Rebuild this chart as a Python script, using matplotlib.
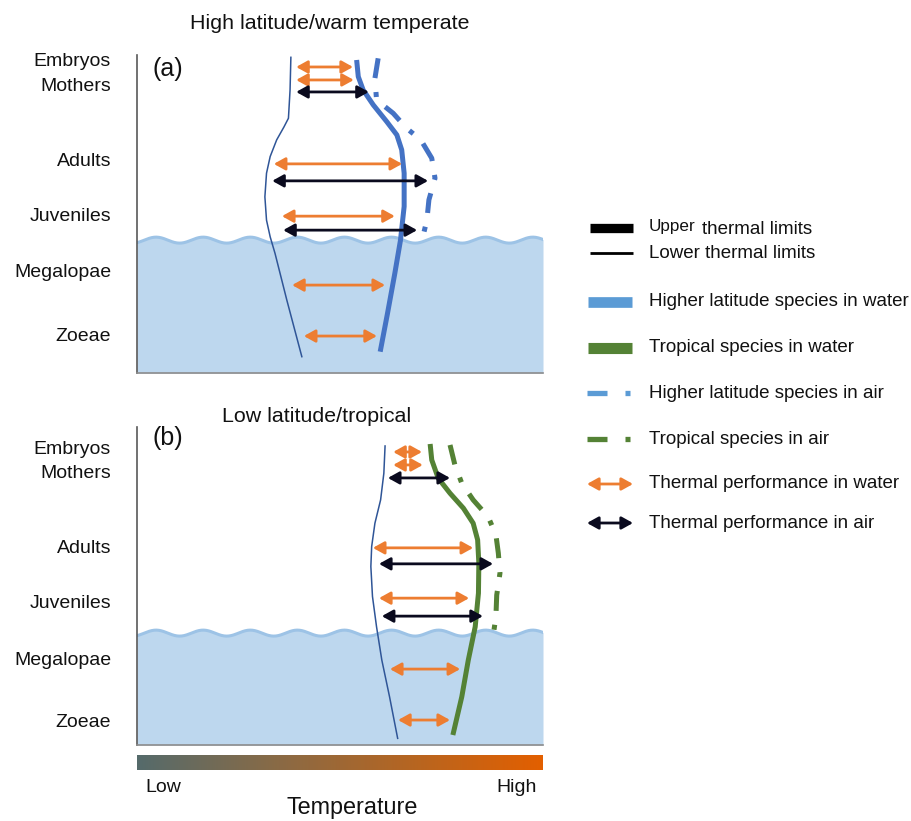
import numpy as np
import matplotlib
matplotlib.use("Agg")
import matplotlib.pyplot as plt
from matplotlib.colors import LinearSegmentedColormap

plt.rcParams['font.family'] = ['Liberation Sans', 'DejaVu Sans']

# ---------------- data (temperature axis 0-100, vertical position 0-100) -------------
stages = ['Zoeae', 'Megalopae', 'Juveniles', 'Adults', 'Mothers', 'Embryos']

# Panel (a): high latitude / warm temperate
label_y_a = [11.7, 30.9, 47.7, 64.1, 86.5, 94.0]
lower_t_a = [37.9, 37.7, 37.3, 36.2, 34.4, 32.8, 31.9, 31.5, 31.9, 32.8, 34.0, 36.9, 40.6]
lower_y_a = [94.8, 85.0, 76.5, 73.9, 70.0, 65.0, 60.0, 52.9, 45.9, 40.9, 35.9, 21.9, 4.9]
upper_t_a = [54.1, 54.5, 55.7, 58.2, 61.5, 64.0, 65.2, 65.8, 65.8, 64.9, 63.5, 61.7, 59.9]
upper_y_a = [94.0, 89.0, 85.0, 80.5, 75.5, 71.5, 67.0, 60.0, 50.0, 39.9, 29.9, 17.9, 6.4]
air_t_a = [59.4, 58.6, 59.0, 63.1, 66.4, 69.9, 72.6, 73.4, 71.9, 71.4, 70.5]
air_y_a = [94.5, 88.5, 82.0, 78.0, 73.5, 70.0, 64.5, 58.5, 52.0, 45.9, 41.4]
water_perf_y_a = [11.1, 26.4, 47.1, 62.8, 88.0, 91.9]
water_perf_lo_a = [41.1, 38.2, 35.7, 33.7, 39.2, 39.2]
water_perf_hi_a = [59.1, 61.1, 63.5, 65.3, 53.4, 53.2]
air_perf_y_a = [42.9, 57.7, 84.4]
air_perf_lo_a = [36.0, 33.3, 39.2]
air_perf_hi_a = [69.0, 71.7, 57.1]
water_level_a = 39.9

# Panel (b): low latitude / tropical
label_y_b = [7.5, 26.1, 43.2, 59.5, 82.0, 89.2]
lower_t_b = [61.1, 60.8, 60.0, 58.6, 57.8, 57.6, 58.0, 59.0, 60.3, 62.2, 64.2]
lower_y_b = [89.8, 81.6, 73.6, 66.6, 59.6, 53.6, 44.6, 35.5, 25.5, 14.5, 2.0]
upper_t_b = [72.2, 72.6, 74.2, 77.1, 80.4, 82.8, 83.9, 84.2, 84.1, 83.3, 81.6, 80.0, 77.8]
upper_y_b = [90.4, 85.6, 80.1, 75.6, 71.1, 66.6, 61.6, 54.6, 45.6, 35.5, 25.5, 14.5, 3.0]
air_t_b = [77.1, 78.3, 80.0, 82.8, 86.5, 88.4, 89.0, 89.4, 88.6, 88.4, 87.8]
air_y_b = [90.1, 84.1, 78.6, 73.6, 68.5, 63.1, 57.6, 51.6, 45.0, 38.5, 33.5]
water_perf_y_b = [7.5, 22.8, 44.1, 59.2, 84.1, 88.0]
water_perf_lo_b = [64.3, 62.3, 59.6, 58.1, 63.1, 63.1]
water_perf_hi_b = [77.1, 79.6, 81.8, 82.8, 70.4, 70.2]
air_perf_y_b = [38.7, 54.4, 80.2]
air_perf_lo_b = [60.3, 59.6, 61.8]
air_perf_hi_b = [85.2, 87.7, 77.1]
water_level_b = 33.6

legend_labels = ['Lower thermal limits', 'Higher latitude species in water',
                 'Tropical species in water', 'Higher latitude species in air',
                 'Tropical species in air', 'Thermal performance in water',
                 'Thermal performance in air']

# ---------------- style -------------
W, H = 911, 821
ORANGE = '#ED7D31'
BLACK_ARROW = '#0A0A1E'
BLUE_LINE = '#4472C4'
GREEN_LINE = '#548235'
LOWER_COL = '#2F5597'
WATER = '#BDD7EE'
WAVE = '#9DC3E6'
TXT = '#111111'
WAVE_AMP, WAVE_LEN, WAVE_PHASE = 0.9, 11.6, 4.7
DASH = (0, (4.0, 2.8, 1.0, 2.8))

fig = plt.figure(figsize=(W / 100, H / 100), dpi=100)


def px_axes(x0, y0, x1, y1, **kw):
    return fig.add_axes([x0 / W, 1 - y1 / H, (x1 - x0) / W, (y1 - y0) / H], **kw)


def arrow(ax, x0, x1, y, color, ms=15, lw=2.0):
    ax.annotate('', xy=(x1, y), xytext=(x0, y),
                arrowprops=dict(arrowstyle='<|-|>,head_length=0.45,head_width=0.25',
                                color=color, lw=lw, mutation_scale=ms,
                                shrinkA=0, shrinkB=0), zorder=6)


def draw_panel(ax, label_y, lower_t, lower_y, upper_t, upper_y, air_t, air_y,
               wp_y, wp_lo, wp_hi, ap_y, ap_lo, ap_hi, level, col, tag, tag_y):
    ax.set_xlim(0, 100)
    ax.set_ylim(0, 100)
    wx = np.linspace(0, 100, 500)
    wy = level + WAVE_AMP * np.cos(2 * np.pi * (wx - WAVE_PHASE) / WAVE_LEN)
    ax.fill_between(wx, 0, wy, color=WATER, lw=0, zorder=1)
    ax.plot(wx, wy, color=WAVE, lw=2.2, zorder=2)
    ax.plot(lower_t, lower_y, color=LOWER_COL, lw=1.1, zorder=3)
    ax.plot(upper_t, upper_y, color=col, lw=3.6, solid_capstyle='butt',
            solid_joinstyle='round', zorder=4)
    ax.plot(air_t, air_y, color=col, lw=3.6, linestyle=DASH,
            dash_capstyle='butt', dash_joinstyle='round', zorder=4)
    for y, lo, hi in zip(wp_y, wp_lo, wp_hi):
        arrow(ax, lo, hi, y, ORANGE)
    for y, lo, hi in zip(ap_y, ap_lo, ap_hi):
        arrow(ax, lo, hi, y, BLACK_ARROW)
    ax.set_yticks(label_y)
    ax.set_yticklabels(stages)
    ax.tick_params(axis='y', length=0, pad=18.7, labelsize=14, labelcolor=TXT)
    ax.set_xticks([])
    ax.spines['top'].set_visible(False)
    ax.spines['right'].set_visible(False)
    ax.spines['left'].set_color('#595959')
    ax.spines['left'].set_linewidth(1.2)
    ax.spines['left'].set_bounds(0, 95.5)
    ax.spines['bottom'].set_color('#8C8C8C')
    ax.spines['bottom'].set_linewidth(1.2)
    ax.patch.set_visible(False)
    ax.text(0.037, tag_y, tag, transform=ax.transAxes, fontsize=18,
            ha='left', va='center', color=TXT)


ax_a = px_axes(137, 40, 543, 373)
draw_panel(ax_a, label_y_a, lower_t_a, lower_y_a, upper_t_a, upper_y_a,
           air_t_a, air_y_a, water_perf_y_a, water_perf_lo_a, water_perf_hi_a,
           air_perf_y_a, air_perf_lo_a, air_perf_hi_a, water_level_a,
           BLUE_LINE, '(a)', 0.913)

ax_b = px_axes(137, 412, 543, 745)
draw_panel(ax_b, label_y_b, lower_t_b, lower_y_b, upper_t_b, upper_y_b,
           air_t_b, air_y_b, water_perf_y_b, water_perf_lo_b, water_perf_hi_b,
           air_perf_y_b, air_perf_lo_b, air_perf_hi_b, water_level_b,
           GREEN_LINE, '(b)', 0.922)

fig.text(330 / W, 1 - 29 / H, 'High latitude/warm temperate', ha='center',
         va='baseline', fontsize=15.4, color=TXT)
fig.text(317 / W, 1 - 422 / H, 'Low latitude/tropical', ha='center',
         va='baseline', fontsize=15.4, color=TXT)

# ---------------- temperature colour bar -------------
cmap = LinearSegmentedColormap.from_list(
    'temp', [(0.0, '#556B6B'), (0.35, '#8A6A45'), (0.7, '#B9651F'), (1.0, '#E35F00')])
ax_cb = px_axes(137, 755, 543, 770)
ax_cb.imshow(np.linspace(0, 1, 512)[None, :], aspect='auto', cmap=cmap,
             extent=(0, 1, 0, 1))
ax_cb.set_axis_off()
fig.text(145 / W, 1 - 792 / H, 'Low', ha='left', va='baseline', fontsize=14, color=TXT)
fig.text(537 / W, 1 - 792 / H, 'High', ha='right', va='baseline', fontsize=14, color=TXT)
fig.text(352 / W, 1 - 814 / H, 'Temperature', ha='center', va='baseline',
         fontsize=16.8, color=TXT)

# ---------------- legend -------------
ax_l = fig.add_axes([0, 0, 1, 1])
ax_l.set_xlim(0, W)
ax_l.set_ylim(H, 0)
ax_l.set_axis_off()
ax_l.patch.set_visible(False)
TX = 649
ax_l.plot([590, 633], [228, 228], color='black', lw=6.7, solid_capstyle='butt')
ax_l.text(TX, 227, 'Upper', fontsize=12.3, va='center', ha='left', color=TXT)
ax_l.text(702, 229, 'thermal limits', fontsize=13.5, va='center', ha='left', color=TXT)
rows_y = [253, 302, 348, 393, 439, 484, 523]
ax_l.plot([590, 633], [rows_y[0]] * 2, color='black', lw=2.0, solid_capstyle='butt')
ax_l.plot([588, 632], [rows_y[1]] * 2, color='#5B9BD5', lw=7.7, solid_capstyle='butt')
ax_l.plot([588, 632], [rows_y[2]] * 2, color=GREEN_LINE, lw=8.0, solid_capstyle='butt')
for y, c in ((rows_y[3], '#5B9BD5'), (rows_y[4], GREEN_LINE)):
    ax_l.plot([587, 607], [y, y], color=c, lw=3.8, solid_capstyle='butt')
    ax_l.plot([625, 630], [y, y], color=c, lw=3.8, solid_capstyle='butt')
arrow(ax_l, 587, 633, rows_y[5], ORANGE)
arrow(ax_l, 587, 633, rows_y[6], BLACK_ARROW)
for y, lab in zip(rows_y, legend_labels):
    ax_l.text(TX, y, lab, fontsize=13.5, va='center', ha='left', color=TXT)

fig.savefig('out.png', dpi=100)
